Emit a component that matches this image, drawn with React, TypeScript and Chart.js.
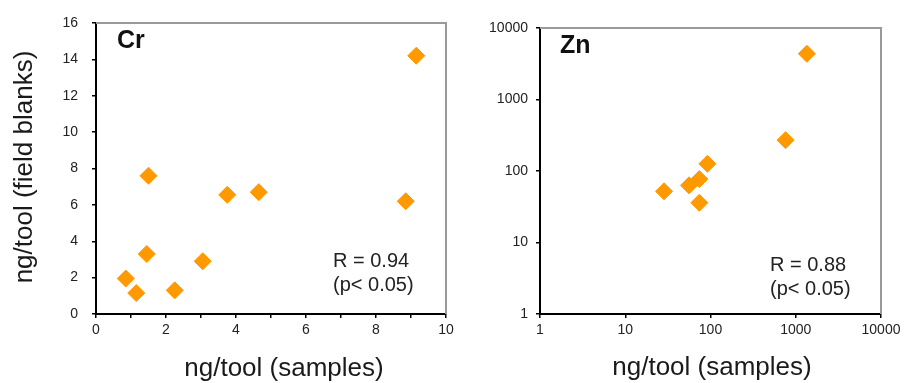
import React, { useEffect, useRef } from "react";
import { Chart, registerables } from "chart.js";

Chart.register(...registerables);

// ---- Data ----
const crSamples = [0.85, 1.15, 1.45, 1.5, 2.25, 3.05, 3.75, 4.65, 8.85, 9.15];
const crBlanks = [1.95, 1.15, 3.3, 7.6, 1.3, 2.9, 6.55, 6.7, 6.2, 14.2];
const znSamples = [28.5, 56, 74, 74, 92, 760, 1350];
const znBlanks = [52, 63, 77, 36, 126, 270, 4360];

const crXTicks = [0, 1, 2, 3, 4, 5, 6, 7, 8, 9, 10];
const crXTickLabels = [0, 2, 4, 6, 8, 10];
const crYTicks = [0, 2, 4, 6, 8, 10, 12, 14, 16];
const znTicks = [1, 10, 100, 1000, 10000];

const crLabel = "Cr";
const znLabel = "Zn";
const crStats = ["R = 0.94", "(p< 0.05)"];
const znStats = ["R = 0.88", "(p< 0.05)"];
const xTitle = "ng/tool (samples)";
const yTitle = "ng/tool (field blanks)";

const FONT = "'Liberation Sans', Arial, Helvetica, sans-serif";
const ORANGE = "#FF9900";

type Ann = {
  name: string;
  nameX: number;
  nameY: number;
  stats: string[];
  statsX: number;
  statsY: number[];
  xTitleX: number;
  xTitleY: number;
  yTitle?: { x: number; y: number };
};

function makeAnnPlugin(a: Ann) {
  return {
    id: "ann",
    afterDraw(chart: any) {
      const ctx = chart.ctx;
      const ca = chart.chartArea;
      ctx.save();
      // gray top / right frame
      ctx.strokeStyle = "#9a9a9a";
      ctx.lineWidth = 2;
      ctx.beginPath();
      ctx.moveTo(ca.left, ca.top);
      ctx.lineTo(ca.right, ca.top);
      ctx.lineTo(ca.right, ca.bottom);
      ctx.stroke();

      ctx.fillStyle = "#111";
      ctx.textBaseline = "alphabetic";
      ctx.textAlign = "left";
      ctx.font = `bold 25px ${FONT}`;
      ctx.fillText(a.name, a.nameX, a.nameY);

      ctx.font = `20px ${FONT}`;
      ctx.fillStyle = "#222";
      a.stats.forEach((s, i) => ctx.fillText(s, a.statsX, a.statsY[i]));

      ctx.font = `26px ${FONT}`;
      ctx.fillStyle = "#1a1a1a";
      ctx.textAlign = "center";
      ctx.textBaseline = "middle";
      ctx.fillText(xTitle, a.xTitleX, a.xTitleY);

      if (a.yTitle) {
        ctx.translate(a.yTitle.x, a.yTitle.y);
        ctx.rotate(-Math.PI / 2);
        ctx.fillText(yTitle, 0, 0);
      }
      ctx.restore();
    },
  };
}

const tickFont = { family: FONT, size: 14 };

function axisCommon() {
  return {
    grid: {
      display: true,
      drawOnChartArea: false,
      drawTicks: true,
      tickLength: 4,
      color: "#000",
      lineWidth: 1.5,
    },
    border: { display: true, color: "#000", width: 2 },
  };
}

function ScatterPanel(props: {
  width: number;
  left: number;
  config: (canvas: HTMLCanvasElement) => Chart;
}) {
  const ref = useRef<HTMLCanvasElement | null>(null);
  useEffect(() => {
    if (!ref.current) return;
    const chart = props.config(ref.current);
    return () => chart.destroy();
  }, []);
  return (
    <div
      style={{
        position: "absolute",
        left: props.left,
        top: 0,
        width: props.width,
        height: 383,
      }}
    >
      <canvas ref={ref} width={props.width} height={383} />
    </div>
  );
}

function makeCr(canvas: HTMLCanvasElement) {
  return new Chart(canvas, {
    type: "scatter",
    data: {
      datasets: [
        {
          data: crSamples.map((x, i) => ({ x, y: crBlanks[i] })),
          pointStyle: "rectRot",
          pointRadius: 8.5,
          pointBackgroundColor: ORANGE,
          pointBorderColor: ORANGE,
          pointBorderWidth: 1,
        },
      ],
    },
    options: {
      responsive: false,
      animation: false,
      events: [],
      layout: { padding: { top: 23, right: 14, left: 0, bottom: 0 } },
      plugins: { legend: { display: false }, tooltip: { enabled: false } },
      scales: {
        x: {
          type: "linear",
          min: 0,
          max: 10,
          ...axisCommon(),
          afterFit: (s: any) => {
            s.height = 69;
          },
          afterBuildTicks: (s: any) => {
            s.ticks = crXTicks.map((v) => ({ value: v }));
          },
          ticks: {
            autoSkip: false,
            maxRotation: 0,
            padding: 4,
            color: "#222",
            font: tickFont,
            callback: (v: any) => (crXTickLabels.includes(Number(v)) ? String(v) : ""),
          },
        },
        y: {
          type: "linear",
          min: 0,
          max: 16,
          ...axisCommon(),
          afterFit: (s: any) => {
            s.width = 96;
          },
          afterBuildTicks: (s: any) => {
            s.ticks = crYTicks.map((v) => ({ value: v }));
          },
          ticks: {
            autoSkip: false,
            padding: 14,
            color: "#222",
            font: tickFont,
            callback: (v: any) => String(v),
          },
        },
      },
    },
    plugins: [
      makeAnnPlugin({
        name: crLabel,
        nameX: 117,
        nameY: 48,
        stats: crStats,
        statsX: 333,
        statsY: [267, 291],
        xTitleX: 284,
        xTitleY: 369,
        yTitle: { x: 25, y: 167 },
      }),
    ],
  } as any);
}

function makeZn(canvas: HTMLCanvasElement) {
  return new Chart(canvas, {
    type: "scatter",
    data: {
      datasets: [
        {
          data: znSamples.map((x, i) => ({ x, y: znBlanks[i] })),
          pointStyle: "rectRot",
          pointRadius: 8.5,
          pointBackgroundColor: ORANGE,
          pointBorderColor: ORANGE,
          pointBorderWidth: 1,
        },
      ],
    },
    options: {
      responsive: false,
      animation: false,
      events: [],
      layout: { padding: { top: 28, right: 28, left: 0, bottom: 0 } },
      plugins: { legend: { display: false }, tooltip: { enabled: false } },
      scales: {
        x: {
          type: "logarithmic",
          min: 1,
          max: 10000,
          ...axisCommon(),
          afterFit: (s: any) => {
            s.height = 69;
          },
          afterBuildTicks: (s: any) => {
            s.ticks = znTicks.map((v) => ({ value: v }));
          },
          ticks: {
            autoSkip: false,
            maxRotation: 0,
            padding: 4,
            color: "#222",
            font: tickFont,
            callback: (v: any) => String(v),
          },
        },
        y: {
          type: "logarithmic",
          min: 1,
          max: 10000,
          ...axisCommon(),
          afterFit: (s: any) => {
            s.width = 80;
          },
          afterBuildTicks: (s: any) => {
            s.ticks = znTicks.map((v) => ({ value: v }));
          },
          ticks: {
            autoSkip: false,
            padding: 8,
            color: "#222",
            font: tickFont,
            callback: (v: any) => String(v),
          },
        },
      },
    },
    plugins: [
      makeAnnPlugin({
        name: znLabel,
        nameX: 100,
        nameY: 53,
        stats: znStats,
        statsX: 310,
        statsY: [271, 295],
        xTitleX: 252,
        xTitleY: 368,
      }),
    ],
  } as any);
}

export default function App() {
  return (
    <div
      style={{
        position: "absolute",
        left: 0,
        top: 0,
        width: 909,
        height: 383,
        background: "#fff",
        overflow: "hidden",
      }}
    >
      <ScatterPanel left={0} width={460} config={makeCr} />
      <ScatterPanel left={460} width={449} config={makeZn} />
    </div>
  );
}
